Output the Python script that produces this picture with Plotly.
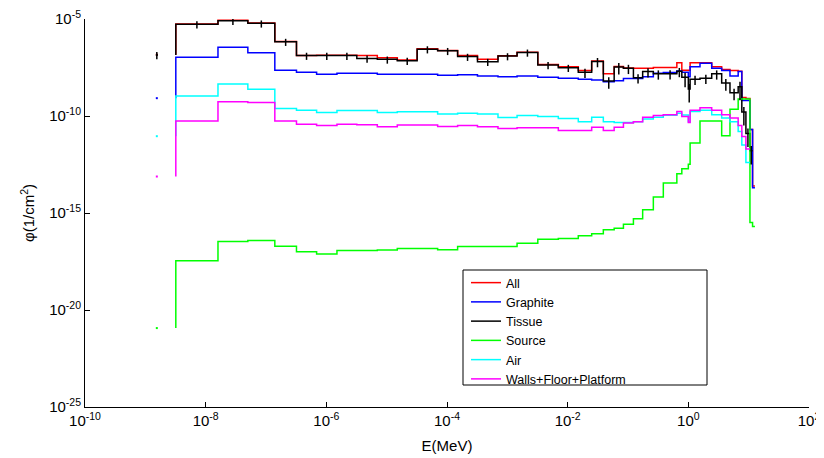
import math
import plotly.graph_objects as go

# ---------------- data ----------------
# Shared energy-bin edges in MeV (the last entry is the upper edge of the final bin)
energy_edges = [3.2e-9, 1.6e-8, 5.0e-8, 1.4e-7, 3.2e-7, 6.9e-7, 1.5e-6, 3.2e-6, 7.0e-6, 1.5e-5,
                3.2e-5, 7.0e-5, 1.5e-4, 3.2e-4, 7.0e-4, 1.45e-3, 3.2e-3, 7.0e-3, 1.5e-2, 2.5e-2,
                3.9e-2, 5.9e-2, 8.4e-2, 0.123, 0.175, 0.263, 0.385, 0.645, 0.78, 1.0,
                1.07, 1.56, 2.44, 3.57, 4.9, 6.7, 7.7, 9.0, 10.5, 11.6, 12.7]

# isolated first point of every curve
first_energy = 1.55e-9

series_names = ["All", "Graphite", "Tissue", "Source", "Air", "Walls+Floor+Platform"]

all_first = 1.45e-7
all_flux = [5.6e-6, 8.5e-6, 6.2e-6, 6.9e-7, 1.32e-7, 1.35e-7, 1.35e-7, 1.3e-7, 1.0e-7, 7.6e-8,
            2.9e-7, 2.4e-7, 1.3e-7, 8.3e-8, 1.26e-7, 1.95e-7, 4.5e-8, 3.5e-8, 2.2e-8, 6.8e-8,
            1.5e-8, 3.6e-8, 3.0e-8, 2.9e-8, 2.9e-8, 3.2e-8, 3.2e-8, 5.6e-8, 2.3e-8, 2.3e-8,
            5.6e-8, 5.6e-8, 3.5e-8, 2.5e-8, 2.2e-8, 2.0e-8, 8.9e-10, 7.9e-10, 2.0e-11, 2.5e-14]

graphite_first = 8.3e-10
graphite_flux = [1.07e-7, 3.5e-7, 1.8e-7, 2.3e-8, 1.8e-8, 1.4e-8, 1.6e-8, 1.6e-8, 1.4e-8, 1.4e-8,
                 1.4e-8, 1.26e-8, 1.35e-8, 1.17e-8, 1.05e-8, 1.15e-8, 1.0e-8, 8.9e-9, 7.9e-9, 7.2e-9,
                 5.9e-9, 6.6e-9, 8.5e-9, 8.5e-9, 1.07e-8, 1.6e-8, 1.75e-8, 2.1e-8, 1.8e-8, 1.07e-8,
                 3.5e-8, 5.2e-8, 2.9e-8, 2.2e-8, 1.15e-8, 1.95e-8, 6.3e-10, 6.3e-10, 2.0e-11, 2.0e-14]

tissue_first = 1.41e-7
tissue_flux = [5.4e-6, 8.1e-6, 6.0e-6, 6.8e-7, 1.3e-7, 1.3e-7, 1.3e-7, 9.3e-8, 8.3e-8, 7.1e-8,
               2.8e-7, 2.3e-7, 1.15e-7, 6.3e-8, 1.23e-7, 1.9e-7, 4.3e-8, 3.1e-8, 1.8e-8, 6.5e-8,
               6.3e-9, 3.4e-8, 2.9e-8, 9.5e-9, 1.95e-8, 1.5e-8, 1.5e-8, 2.0e-8, 1.0e-8, 2.5e-9,
               7.9e-9, 8.9e-9, 1.5e-8, 5.0e-9, 1.6e-9, 3.2e-9, 1.6e-10, 1.26e-11, 1.6e-12, None]
# relative statistical error of the Tissue tally (drawn as vertical bars)
tissue_rel_err = [0.4, 0.4, 0.4, 0.4, 0.4, 0.4, 0.4, 0.4, 0.4, 0.4,
                  0.4, 0.4, 0.4, 0.4, 0.4, 0.4, 0.4, 0.4, 0.5, 0.5,
                  0.6, 0.6, 0.5, 0.5, 0.5, 0.5, 0.5, 0.5, 0.7, 0.8,
                  0.5, 0.5, 0.5, 0.6, 0.6, 0.8, 0.8, 0.8, 0.8, None]

source_first = 1.17e-21
source_flux = [3.5e-18, 3.4e-17, 3.8e-17, 1.95e-17, 1.0e-17, 7.6e-18, 1.17e-17, 1.17e-17, 1.23e-17, 1.48e-17,
               1.48e-17, 1.26e-17, 1.86e-17, 1.86e-17, 1.86e-17, 2.75e-17, 4.4e-17, 4.9e-17, 6.8e-17, 8.5e-17,
               1.35e-16, 1.66e-16, 2.6e-16, 5.0e-16, 1.48e-15, 6.6e-15, 3.5e-14, 1.07e-13, 1.9e-13, 3.3e-13,
               4.0e-12, 5.6e-11, 5.6e-11, 9.5e-12, 2.2e-10, 7.6e-10, 7.6e-10, 7.6e-10, 3.2e-16, 2.0e-16]

air_first = 9.1e-12
air_flux = [1.07e-9, 4.4e-9, 2.4e-9, 2.4e-10, 2.0e-10, 1.5e-10, 1.9e-10, 1.9e-10, 1.5e-10, 1.66e-10,
            1.66e-10, 1.26e-10, 1.4e-10, 1.26e-10, 8.3e-11, 1.05e-10, 9.3e-11, 7.4e-11, 5.1e-11, 8.7e-11,
            5.1e-11, 4.6e-11, 4.6e-11, 5.1e-11, 7.1e-11, 8.7e-11, 1.1e-10, 1.38e-10, 1.12e-10, 5.1e-11,
            1.7e-10, 2.0e-10, 1.15e-10, 7.9e-11, 5.1e-11, 1.6e-11, 3.2e-12, 4.0e-13, None, None]

walls_first = 7.6e-14
walls_flux = [5.6e-11, 5.5e-10, 4.9e-10, 5.6e-11, 3.8e-11, 3.2e-11, 3.8e-11, 3.5e-11, 2.8e-11, 3.4e-11,
              3.4e-11, 2.9e-11, 3.2e-11, 2.8e-11, 2.3e-11, 2.5e-11, 2.5e-11, 1.8e-11, 1.8e-11, 2.6e-11,
              1.8e-11, 2.6e-11, 4.3e-11, 5.1e-11, 8.7e-11, 1.05e-10, 1.15e-10, 1.7e-10, 9.3e-11, 4.6e-11,
              2.0e-10, 2.7e-10, 2.0e-10, 1.15e-10, 7.8e-11, 3.2e-11, 8.7e-12, 2.0e-12, None, None]

x_tick_values = [1e-10, 1e-8, 1e-6, 1e-4, 1e-2, 1e0, 1e2]
x_tick_labels = ["10<sup>-10</sup>", "10<sup>-8</sup>", "10<sup>-6</sup>", "10<sup>-4</sup>",
                 "10<sup>-2</sup>", "10<sup>0</sup>", "10<sup>2</sup>"]
y_tick_values = [1e-25, 1e-20, 1e-15, 1e-10, 1e-5]
y_tick_labels = ["10<sup>-25</sup>", "10<sup>-20</sup>", "10<sup>-15</sup>",
                 "10<sup>-10</sup>", "10<sup>-5</sup>"]

# ---------------- styles ----------------
colors = {"All": "#ff0000", "Graphite": "#0000ff", "Tissue": "#000000",
          "Source": "#00ff00", "Air": "#00ffff", "Walls+Floor+Platform": "#ff00ff"}
FONT = "Liberation Sans, Arial, sans-serif"


def stair_xy(first_value, values):
    n = max(i for i, v in enumerate(values) if v is not None)
    xs = [energy_edges[0]]
    ys = [first_value]
    for i in range(n + 1):
        xs.append(energy_edges[i])
        ys.append(values[i])
    xs.append(energy_edges[n + 1])
    ys.append(values[n])
    return xs, ys


data = {
    "All": (all_first, all_flux),
    "Graphite": (graphite_first, graphite_flux),
    "Tissue": (tissue_first, tissue_flux),
    "Source": (source_first, source_flux),
    "Air": (air_first, air_flux),
    "Walls+Floor+Platform": (walls_first, walls_flux),
}

fig = go.Figure()

for name in series_names:
    first_value, values = data[name]
    xs, ys = stair_xy(first_value, values)
    fig.add_trace(go.Scatter(x=xs, y=ys, mode="lines", name=name,
                             line=dict(color=colors[name], width=1.5, shape="hv")))

# isolated first points
for name in series_names:
    first_value, _ = data[name]
    fig.add_trace(go.Scatter(x=[first_energy], y=[first_value], mode="markers",
                             marker=dict(color=colors[name], size=2, symbol="square"),
                             showlegend=False, hoverinfo="skip"))

# Tissue error bars at bin centres (plus the one of the first point)
ex, ey, eerr = [first_energy], [tissue_first], [tissue_first * 0.4]
for i, v in enumerate(tissue_flux):
    if v is None or tissue_rel_err[i] is None:
        continue
    ex.append(math.sqrt(energy_edges[i] * energy_edges[i + 1]))
    ey.append(v)
    eerr.append(v * tissue_rel_err[i])
fig.add_trace(go.Scatter(x=ex, y=ey, mode="markers", marker=dict(size=1, color="black", opacity=0),
                         error_y=dict(type="data", array=eerr, symmetric=True, color="black",
                                      thickness=1.5, width=0),
                         showlegend=False, hoverinfo="skip"))

# The page has an 8 px body margin, so the plot area is placed to land at
# x = 85..809 and y = 19..407 in the browser window.
ML, MR, MT, MB = 77, 23, 11, 59
PW = 824 - ML - MR
PH = 458 - MT - MB


def px_x(page_x):
    return (page_x - 8 - ML) / PW


def px_y(page_y):
    return (458 - MB - (page_y - 8)) / PH


# legend frame
fig.add_shape(type="rect", xref="paper", yref="paper",
              x0=px_x(463), x1=px_x(707), y0=px_y(385), y1=px_y(270),
              line=dict(color="black", width=1), fillcolor="white", layer="below")

axis_common = dict(type="log", showgrid=False, zeroline=False, showline=True,
                   linecolor="black", linewidth=1, ticks="inside", ticklen=5,
                   tickcolor="black", tickwidth=1, mirror=False, automargin=False,
                   ticklabeloverflow="allow",
                   tickfont=dict(family=FONT, size=15, color="black"))

fig.update_layout(
    width=824, height=458,
    margin=dict(l=ML, r=MR, t=MT, b=MB),
    paper_bgcolor="white", plot_bgcolor="white",
    font=dict(family=FONT, size=14, color="black"),
    xaxis=dict(range=[-10, 2], tickmode="array", tickvals=x_tick_values, ticktext=x_tick_labels,
               title=dict(text="E(MeV)", font=dict(family=FONT, size=15), standoff=12),
               **axis_common),
    yaxis=dict(range=[-25, -5], tickmode="array", tickvals=y_tick_values, ticktext=y_tick_labels,
               title=dict(text="φ(1/cm<sup>2</sup>)", font=dict(family=FONT, size=15), standoff=10),
               **axis_common),
    legend=dict(x=px_x(466), y=px_y(268), xanchor="left", yanchor="top",
                bgcolor="rgba(0,0,0,0)", borderwidth=0,
                font=dict(family=FONT, size=12.5, color="black"), tracegroupgap=0),
    showlegend=True,
)

fig.write_html("out.html")
